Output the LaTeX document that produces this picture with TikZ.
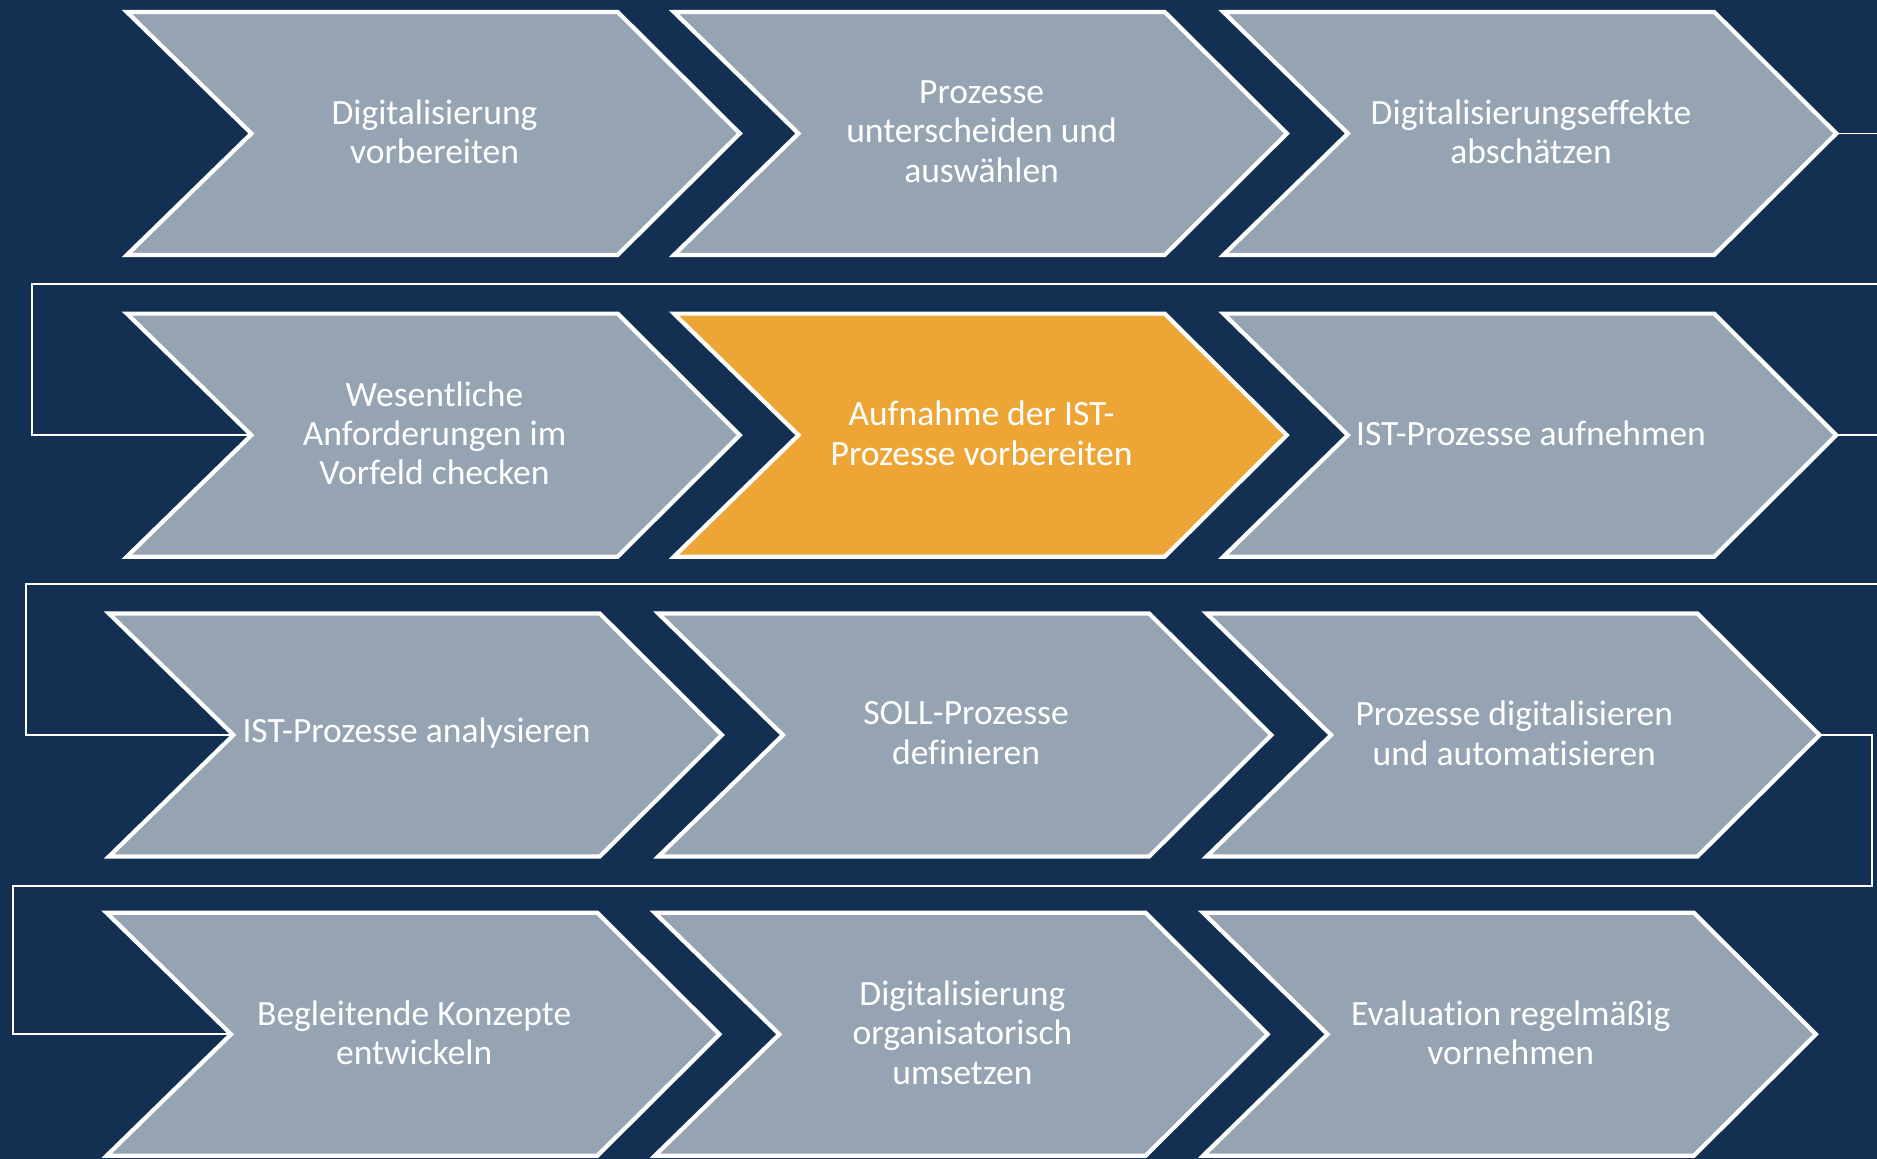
\documentclass[tikz,border=0pt]{standalone}
\usepackage{fontspec}
\setmainfont{Carlito}[Ligatures=NoCommon]
\usepackage{tikz}
\definecolor{navybg}{RGB}{19,48,82}
\definecolor{stepgray}{RGB}{149,163,178}
\definecolor{steporange}{RGB}{237,166,53}

% one chevron step: name, x, y, fill, label
\newcommand{\procstep}[5]{%
  \begin{scope}[shift={(#2,#3)}]
    \draw[stepshape, fill=#4] (-257,-101.5) -- (153,-101.5) -- (255,0)
      -- (153,101.5) -- (-257,101.5) -- (-153,0) -- cycle;
    \coordinate (#1-in) at (-153,0);
    \coordinate (#1-out) at (255,0);
    \node[steptext] (#1) at (0,-1.5) {#5};
  \end{scope}}

\begin{document}
\begin{tikzpicture}[
      x=0.1mm, y=-0.1mm,
      stepshape/.style={draw=white, line width=1pt, line join=miter},
      steptext/.style={text=white, align=center, inner sep=0pt,
                       font=\fontsize{8.45pt}{9.35pt}\selectfont},
      link/.style={draw=white, line width=0.4pt},
    ]
    \fill[navybg] (0,0) rectangle (1568,968);
    \useasboundingbox (0,0) rectangle (1568,968);

    % row 1
    \procstep{vorb}{363}{111.5}{stepgray}{Digitalisierung\\vorbereiten}
    \procstep{ausw}{820}{111.5}{stepgray}{Prozesse\\unterscheiden und\\auswählen}
    \procstep{eff}{1279}{111.5}{stepgray}{Digitalisierungseffekte\\abschätzen}

    % row 2
    \procstep{anf}{363}{363.5}{stepgray}{Wesentliche\\Anforderungen im\\Vorfeld checken}
    \procstep{istvorb}{820}{363.5}{steporange}{Aufnahme der IST-\\Prozesse vorbereiten}
    \procstep{istauf}{1279}{363.5}{stepgray}{IST-Prozesse aufnehmen}

    % row 3
    \procstep{istana}{348}{614}{stepgray}{IST-Prozesse analysieren}
    \procstep{soll}{807}{614}{stepgray}{SOLL-Prozesse\\definieren}
    \procstep{digi}{1265}{614}{stepgray}{Prozesse digitalisieren\\und automatisieren}

    % row 4
    \procstep{konz}{346}{864}{stepgray}{Begleitende Konzepte\\entwickeln}
    \procstep{orga}{804}{864}{stepgray}{Digitalisierung\\organisatorisch\\umsetzen}
    \procstep{eval}{1262}{864}{stepgray}{Evaluation regelmäßig\\vornehmen}

    % free ends at the right border
    \coordinate (edgeA) at (1568,111.5);
    \coordinate (edgeB) at (1568,237);
    \coordinate (edgeC) at (1568,363.5);
    \coordinate (edgeD) at (1568,488);

    % row links
    \draw[link] (eff-out) -- (edgeA);
    \draw[link] (edgeB) -- (27,237) |- (anf-in);
    \draw[link] (istauf-out) -- (edgeC);
    \draw[link] (edgeD) -- (22,488) |- (istana-in);
    \draw[link] (digi-out) -- (1564,614) |- (11,740) |- (konz-in);
  \end{tikzpicture}
\end{document}
